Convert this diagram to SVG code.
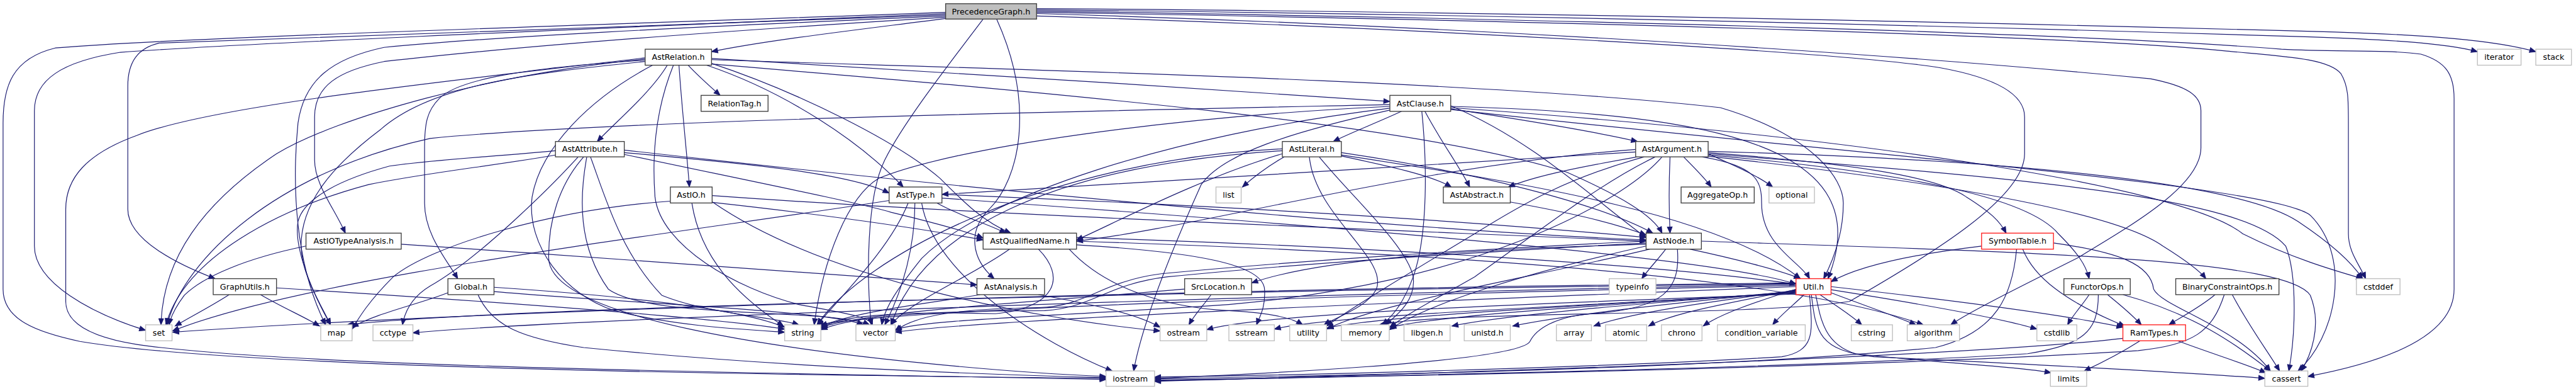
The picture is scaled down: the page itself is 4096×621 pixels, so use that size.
<svg xmlns="http://www.w3.org/2000/svg" width="4096" height="621" viewBox="0 0 4096 621">
<style>
.e{fill:none;stroke:#191970;stroke-width:1.2;marker-end:url(#ah)}
.n rect{fill:#fff;stroke:#404040;stroke-width:1.4}
.g rect{fill:#fff;stroke:#bfbfbf;stroke-width:1.4}
.r rect{fill:#fff;stroke:#ff2020;stroke-width:1.4}
.p rect{fill:#bfbfbf;stroke:#404040;stroke-width:1.4}
text{font-family:"DejaVu Sans","Liberation Sans",sans-serif;font-size:13px;text-anchor:middle;fill:#000}
</style>
<defs>
<marker id="ah" markerUnits="userSpaceOnUse" markerWidth="11" markerHeight="9" refX="10" refY="4.5" orient="auto" overflow="visible">
<path d="M0,0.5 L10,4.5 L0,8.5 z" fill="#191970" stroke="#191970" stroke-width="1"/>
</marker>
</defs>
<rect width="4096" height="621" fill="#fff"/>
<g transform="scale(0.977)">
<g id="edges">
<path class="e" d="M1539,30 C1400,48 1250,65 1158,84"/>
<path class="e" d="M1539,20 C1000,40 300,60 90,78 C20,95 5,140 5,200 L5,470 C5,520 60,540 130,555 C400,600 1300,610 1800,615"/>
<path class="e" d="M1539,22 C1000,45 400,70 196,85 C100,100 56,130 56,180 L56,400 C56,460 150,510 237,537"/>
<path class="e" d="M1539,24 C1000,45 400,65 259,70 C225,78 208,100 208,140 L208,340 C208,390 290,430 350,453"/>
<path class="e" d="M1539,26 C1100,45 800,60 625,77 C540,95 495,130 485,200 C475,300 480,430 530,528"/>
<path class="e" d="M1539,28 C1100,55 800,80 625,100 C550,115 512,140 512,190 L512,260 C512,300 545,340 562,379"/>
<path class="e" d="M1687,16 C2600,25 3500,52 3760,60 C3880,64 3980,70 4032,84"/>
<path class="e" d="M1687,14 C2600,20 3500,44 3800,52 C3950,57 4060,65 4127,84"/>
<path class="e" d="M1687,20 C2600,35 3400,60 3624,83 C3720,92 3790,95 3810,120 C3822,140 3822,160 3822,200 L3822,380 C3822,410 3840,430 3850,453"/>
<path class="e" d="M1687,18 C2600,32 3400,55 3713,80 C3800,85 3880,80 3940,88 C3980,100 3994,120 3994,160 L3994,470 C3994,540 3900,585 3756,612"/>
<path class="e" d="M1687,22 C2300,40 3000,80 3500,128 C3560,140 3582,155 3582,180 L3582,240 C3582,300 3480,360 3380,420 C3280,470 3200,510 3175,528"/>
<path class="e" d="M1687,26 C2300,45 3000,85 3157,110 C3240,125 3295,150 3295,190 L3295,250 C3295,320 3150,410 3010,490 C2850,515 2350,505 2245,528"/>
<path class="e" d="M1600,31 C1540,110 1470,200 1440,260 C1410,320 1410,450 1418,528"/>
<path class="e" d="M1622,31 C1685,170 1660,290 1610,340 C1575,375 1580,420 1618,453"/>
<path class="e" d="M1120,106 C1135,122 1155,140 1172,155"/>
<path class="e" d="M1086,106 C1060,150 1000,200 972,230"/>
<path class="e" d="M1105,106 C1110,180 1118,250 1122,304"/>
<path class="e" d="M1050,96 C800,120 550,190 450,250 C330,330 265,420 262,528"/>
<path class="e" d="M1050,94 C750,130 350,170 223,220 C140,250 107,290 107,340 L107,490 C107,530 160,550 223,560 C500,600 1400,608 1800,617"/>
<path class="e" d="M1050,98 C850,110 745,130 715,160 C695,180 691,200 691,240 L691,330 C691,380 725,420 745,453"/>
<path class="e" d="M1050,100 C850,120 700,140 620,210 C540,270 490,330 490,400 C492,450 520,490 538,528"/>
<path class="e" d="M1062,106 C960,160 880,240 866,320 C856,400 920,480 1000,505 C1100,530 1200,535 1277,540"/>
<path class="e" d="M1096,106 C1070,170 1060,240 1066,320 C1075,400 1200,470 1300,495 C1380,510 1415,515 1420,528"/>
<path class="e" d="M1150,106 C1280,150 1400,230 1470,304"/>
<path class="e" d="M1158,103 C1300,150 1460,230 1530,290 C1570,330 1600,360 1645,379"/>
<path class="e" d="M1158,95 C1500,115 1900,140 2262,165"/>
<path class="e" d="M1158,104 C1700,150 2300,200 2550,280 C2640,320 2690,350 2705,379"/>
<path class="e" d="M1158,97 C1600,112 2400,130 2800,175 C2950,220 3000,290 3000,330 C3000,380 2985,420 2968,453"/>
<path class="e" d="M941,255 C900,300 780,420 700,465 C675,480 660,500 655,528"/>
<path class="e" d="M904,245 C800,255 700,260 634,270 C560,290 495,320 485,360 C478,400 505,470 538,528"/>
<path class="e" d="M904,252 C800,270 700,280 600,300 C450,340 300,420 270,528"/>
<path class="e" d="M950,255 C910,300 892,360 893,420 C895,520 1300,570 1500,590 C1650,605 1750,610 1800,612"/>
<path class="e" d="M955,255 C943,320 940,400 990,470 C1060,520 1350,500 1415,528"/>
<path class="e" d="M961,255 C985,320 1010,410 1077,480 C1150,510 1260,515 1300,528"/>
<path class="e" d="M1016,248 C1200,265 1380,280 1447,314"/>
<path class="e" d="M1016,244 C1600,310 2300,375 2679,390"/>
<path class="e" d="M1016,251 C1200,290 1400,330 1450,345 C1520,362 1570,375 1600,387"/>
<path class="e" d="M1126,330 C1140,420 1200,480 1275,530"/>
<path class="e" d="M1159,318 C1600,350 2300,375 2679,392"/>
<path class="e" d="M1159,328 C1350,460 1700,520 1888,538"/>
<path class="e" d="M1091,327 C900,340 700,400 640,450 C600,490 585,515 573,535"/>
<path class="e" d="M1159,329 C1350,350 1500,372 1600,390"/>
<path class="e" d="M1489,330 C1489,400 1470,470 1440,528"/>
<path class="e" d="M1478,330 C1450,400 1380,470 1330,528"/>
<path class="e" d="M1447,326 C1100,380 500,450 281,538"/>
<path class="e" d="M1525,330 C1560,350 1610,365 1637,379"/>
<path class="e" d="M1533,316 C2000,335 2400,360 2679,386"/>
<path class="e" d="M1533,322 C2200,370 2800,420 2923,462"/>
<path class="e" d="M1500,330 C1520,450 1700,560 1810,603"/>
<path class="e" d="M2180,253 C2260,270 2330,285 2362,304"/>
<path class="e" d="M2090,255 C2060,272 2040,288 2022,304"/>
<path class="e" d="M2087,250 C1950,290 1800,370 1752,390"/>
<path class="e" d="M2087,245 C1700,270 1500,380 1450,528"/>
<path class="e" d="M2087,242 C1700,260 1400,420 1330,528"/>
<path class="e" d="M2131,255 C2140,350 2260,420 2240,470 C2225,500 2175,515 2155,528"/>
<path class="e" d="M2147,255 C2200,320 2290,400 2300,450 C2305,490 2270,515 2255,528"/>
<path class="e" d="M2183,252 C2500,300 2800,350 2930,453"/>
<path class="e" d="M2183,248 C2400,280 2600,330 2690,379"/>
<path class="e" d="M2281,181 C2240,200 2200,215 2170,230"/>
<path class="e" d="M2319,181 C2345,230 2375,270 2392,304"/>
<path class="e" d="M2361,177 C2480,195 2600,215 2665,230"/>
<path class="e" d="M2314,181 C2322,260 2325,380 2300,450 C2285,490 2270,510 2250,528"/>
<path class="e" d="M2262,170 C1800,180 1000,195 700,225 C450,280 300,420 272,528"/>
<path class="e" d="M2262,173 C1900,190 1550,240 1430,290 C1380,320 1340,420 1325,528"/>
<path class="e" d="M2262,176 C1900,220 1600,320 1500,420 C1460,470 1440,500 1435,528"/>
<path class="e" d="M2262,179 C2100,215 1990,250 1955,300 C1910,400 1860,520 1845,603"/>
<path class="e" d="M2361,172 C2500,230 2600,330 2679,386"/>
<path class="e" d="M2361,173 C2800,185 3060,240 2975,453"/>
<path class="e" d="M2361,175 C3000,220 3550,300 3650,380 C3730,420 3800,440 3845,453"/>
<path class="e" d="M2361,178 C3000,250 3700,300 3760,350 C3830,420 3800,550 3740,603"/>
<path class="e" d="M2665,255 C2580,270 2500,285 2455,304"/>
<path class="e" d="M2740,255 C2760,275 2775,290 2785,304"/>
<path class="e" d="M2780,250 C2820,268 2860,285 2885,304"/>
<path class="e" d="M2718,255 C2716,300 2716,340 2718,379"/>
<path class="e" d="M2662,247 C2300,270 1800,300 1533,316"/>
<path class="e" d="M2662,243 C2300,270 1950,370 1752,392"/>
<path class="e" d="M2780,248 C3000,265 3150,285 3200,320 C3240,345 3255,360 3265,379"/>
<path class="e" d="M2780,252 C3100,280 3300,320 3350,380 C3380,410 3395,430 3400,453"/>
<path class="e" d="M2780,254 C3200,300 3450,350 3520,400 C3560,425 3580,440 3590,453"/>
<path class="e" d="M2770,255 C2860,270 2867,295 2867,330 C2867,400 2930,425 2945,453"/>
<path class="e" d="M2780,246 C3300,260 3650,300 3740,360 C3800,400 3830,430 3845,453"/>
<path class="e" d="M2780,250 C3300,290 3650,320 3720,400 C3740,450 3735,550 3725,603"/>
<path class="e" d="M2694,255 C2600,300 2500,380 2400,450 C2330,490 2290,510 2262,532"/>
<path class="e" d="M2676,255 C2550,290 2480,330 2400,380 C2300,440 2200,500 2159,530"/>
<path class="e" d="M2705,255 C2640,330 2400,460 2000,495 C1700,515 1500,520 1457,536"/>
<path class="e" d="M2456,328 C2550,345 2620,360 2679,382"/>
<path class="e" d="M498,400 C400,420 330,450 300,480 C285,500 278,515 275,528"/>
<path class="e" d="M653,397 C1000,420 1400,450 1590,463"/>
<path class="e" d="M1643,405 C1580,450 1480,490 1450,528"/>
<path class="e" d="M1690,405 C1735,450 1720,500 1620,510 C1450,505 1360,515 1336,534"/>
<path class="e" d="M1752,398 C1950,410 2055,430 2058,470 C2060,500 2050,515 2045,528"/>
<path class="e" d="M1752,386 C2200,400 2700,430 2923,462"/>
<path class="e" d="M1752,392 C2300,410 2900,445 3130,528"/>
<path class="e" d="M1740,405 C1800,470 1900,500 2000,505 C2060,508 2100,515 2120,528"/>
<path class="e" d="M2711,405 C2700,420 2685,435 2672,453"/>
<path class="e" d="M2679,397 C2400,405 2150,420 2037,460"/>
<path class="e" d="M2730,405 C2735,470 2710,502 2590,510 C2530,515 2500,535 2490,555 C2470,590 2000,610 1879,615"/>
<path class="e" d="M2750,405 C2820,420 2900,440 2930,453"/>
<path class="e" d="M2769,392 C3300,410 3720,420 3760,480 C3780,530 3760,580 3745,603"/>
<path class="e" d="M2679,400 C2500,440 2330,490 2261,536"/>
<path class="e" d="M2679,395 C2400,410 2100,430 1900,450 C1800,462 1780,500 1700,505 C1550,505 1400,510 1336,536"/>
<path class="e" d="M2679,392 C2400,405 2100,425 1890,445 C1790,458 1770,498 1690,500 C1560,502 1490,512 1457,538"/>
<path class="e" d="M2685,405 C2500,450 2250,490 2159,535"/>
<path class="e" d="M3225,400 C3100,415 3020,435 2980,458"/>
<path class="e" d="M3282,405 C3275,480 3250,540 3150,565 C2800,600 2200,610 1879,616"/>
<path class="e" d="M3292,405 C3310,450 3360,490 3458,530"/>
<path class="e" d="M3342,395 C3450,410 3500,430 3505,470 C3520,500 3640,530 3695,603"/>
<path class="e" d="M3400,479 C3390,495 3375,510 3365,528"/>
<path class="e" d="M3430,479 C3450,495 3470,512 3485,528"/>
<path class="e" d="M3415,479 C3415,540 3390,560 3300,575 C2900,600 2200,612 1879,618"/>
<path class="e" d="M3455,479 C3570,510 3640,560 3695,603"/>
<path class="e" d="M3605,479 C3580,500 3550,515 3530,528"/>
<path class="e" d="M3633,479 C3660,530 3690,570 3710,603"/>
<path class="e" d="M3620,479 C3600,540 3570,560 3480,570 C3000,600 2200,612 1879,619"/>
<path class="e" d="M3483,554 C3450,575 3420,590 3392,603"/>
<path class="e" d="M3544,554 C3600,575 3650,590 3688,606"/>
<path class="e" d="M3455,550 C3200,580 2400,605 1879,620"/>
<path class="e" d="M2936,479 C2920,495 2900,510 2885,528"/>
<path class="e" d="M2962,479 C2985,495 3010,510 3030,528"/>
<path class="e" d="M2980,476 C3030,495 3080,512 3118,528"/>
<path class="e" d="M2980,471 C3100,490 3250,515 3315,535"/>
<path class="e" d="M2980,466 C3150,485 3350,510 3455,532"/>
<path class="e" d="M2955,479 C2963,520 2970,560 3020,575 C3150,590 3280,595 3338,606"/>
<path class="e" d="M2948,479 C2955,540 2960,570 3050,580 C3300,592 3550,605 3686,615"/>
<path class="e" d="M2923,470 C2860,490 2800,510 2772,530"/>
<path class="e" d="M2923,471 C2800,495 2720,510 2683,530"/>
<path class="e" d="M2923,472 C2750,495 2650,510 2594,530"/>
<path class="e" d="M2923,473 C2700,495 2550,512 2462,530"/>
<path class="e" d="M2923,474 C2650,495 2450,512 2363,530"/>
<path class="e" d="M2923,475 C2600,497 2350,512 2262,532"/>
<path class="e" d="M2923,476 C2550,498 2250,514 2160,533"/>
<path class="e" d="M2923,477 C2500,500 2150,515 2074,535"/>
<path class="e" d="M2923,478 C2450,495 2050,510 1964,536"/>
<path class="e" d="M2923,466 C2300,490 1600,520 1457,540"/>
<path class="e" d="M2923,464 C2200,480 1500,500 1330,528"/>
<path class="e" d="M2945,479 C2950,540 2955,570 2900,580 C2600,598 2100,610 1879,613"/>
<path class="e" d="M2923,462 C2000,480 900,520 672,541"/>
<path class="e" d="M2923,461 C2000,472 800,500 565,528"/>
<path class="e" d="M2923,460 C1800,470 700,510 281,540"/>
<path class="e" d="M1971,479 C1960,495 1945,510 1935,528"/>
<path class="e" d="M1928,470 C1700,490 1420,505 1336,532"/>
<path class="e" d="M1690,479 C1780,495 1850,510 1888,532"/>
<path class="e" d="M1595,479 C1500,495 1400,505 1336,530"/>
<path class="e" d="M373,479 C340,500 310,515 285,530"/>
<path class="e" d="M424,479 C460,500 495,515 520,530"/>
<path class="e" d="M450,468 C800,490 1150,515 1277,535"/>
<path class="e" d="M729,476 C680,495 610,510 573,532"/>
<path class="e" d="M804,467 C1000,480 1200,500 1277,532"/>
<path class="e" d="M804,474 C1050,495 1350,505 1405,528"/>
<path class="e" d="M778,479 C800,530 850,550 950,565 C1300,600 1650,610 1800,614"/>
</g>
<g id="node-PrecedenceGraph" class="p"><rect x="1539" y="6" width="148" height="25"/><text x="1613" y="23.5">PrecedenceGraph.h</text></g>
<g id="node-AstRelation" class="n"><rect x="1050" y="80" width="108" height="26"/><text x="1104" y="97.5">AstRelation.h</text></g>
<g id="node-iterator" class="g"><rect x="4032" y="80" width="71" height="26"/><text x="4067.5" y="97.5">iterator</text></g>
<g id="node-stack" class="g"><rect x="4127" y="80" width="58" height="26"/><text x="4156" y="97.5">stack</text></g>
<g id="node-RelationTag" class="n"><rect x="1141" y="155" width="109" height="26"/><text x="1195.5" y="172.5">RelationTag.h</text></g>
<g id="node-AstClause" class="n"><rect x="2262" y="155" width="99" height="26"/><text x="2311.5" y="172.5">AstClause.h</text></g>
<g id="node-AstAttribute" class="n"><rect x="904" y="230" width="112" height="25"/><text x="960" y="247">AstAttribute.h</text></g>
<g id="node-AstLiteral" class="n"><rect x="2087" y="230" width="96" height="25"/><text x="2135" y="247">AstLiteral.h</text></g>
<g id="node-AstArgument" class="n"><rect x="2662" y="230" width="118" height="25"/><text x="2721" y="247">AstArgument.h</text></g>
<g id="node-AstIO" class="n"><rect x="1091" y="304" width="68" height="26"/><text x="1125" y="321.5">AstIO.h</text></g>
<g id="node-AstType" class="n"><rect x="1447" y="304" width="86" height="26"/><text x="1490" y="321.5">AstType.h</text></g>
<g id="node-list" class="g"><rect x="1979" y="304" width="41" height="26"/><text x="1999.5" y="321.5">list</text></g>
<g id="node-AstAbstract" class="n"><rect x="2349" y="304" width="109" height="26"/><text x="2403.5" y="321.5">AstAbstract.h</text></g>
<g id="node-AggregateOp" class="n"><rect x="2736" y="304" width="119" height="26"/><text x="2795.5" y="321.5">AggregateOp.h</text></g>
<g id="node-optional" class="g"><rect x="2879" y="304" width="74" height="26"/><text x="2916" y="321.5">optional</text></g>
<g id="node-AstIOTypeAnalysis" class="n"><rect x="498" y="379" width="155" height="26"/><text x="575.5" y="396.5">AstIOTypeAnalysis.h</text></g>
<g id="node-AstQualifiedName" class="n"><rect x="1600" y="379" width="152" height="26"/><text x="1676" y="396.5">AstQualifiedName.h</text></g>
<g id="node-AstNode" class="n"><rect x="2679" y="379" width="90" height="26"/><text x="2724" y="396.5">AstNode.h</text></g>
<g id="node-SymbolTable" class="r"><rect x="3225" y="379" width="117" height="26"/><text x="3283.5" y="396.5">SymbolTable.h</text></g>
<g id="node-GraphUtils" class="n"><rect x="347" y="453" width="103" height="26"/><text x="398.5" y="470.5">GraphUtils.h</text></g>
<g id="node-Global" class="n"><rect x="729" y="453" width="75" height="26"/><text x="766.5" y="470.5">Global.h</text></g>
<g id="node-AstAnalysis" class="n"><rect x="1590" y="453" width="110" height="26"/><text x="1645" y="470.5">AstAnalysis.h</text></g>
<g id="node-SrcLocation" class="n"><rect x="1928" y="453" width="109" height="26"/><text x="1982.5" y="470.5">SrcLocation.h</text></g>
<g id="node-typeinfo" class="g"><rect x="2619" y="453" width="76" height="26"/><text x="2657" y="470.5">typeinfo</text></g>
<g id="node-Util" class="r"><rect x="2923" y="453" width="57" height="26"/><text x="2951.5" y="470.5">Util.h</text></g>
<g id="node-FunctorOps" class="n"><rect x="3359" y="453" width="108" height="26"/><text x="3413" y="470.5">FunctorOps.h</text></g>
<g id="node-BinaryConstraintOps" class="n"><rect x="3541" y="453" width="168" height="26"/><text x="3625" y="470.5">BinaryConstraintOps.h</text></g>
<g id="node-cstddef" class="g"><rect x="3835" y="453" width="71" height="26"/><text x="3870.5" y="470.5">cstddef</text></g>
<g id="node-set" class="g"><rect x="237" y="528" width="43" height="26"/><text x="258.5" y="545.5">set</text></g>
<g id="node-map" class="g"><rect x="522" y="528" width="51" height="26"/><text x="547.5" y="545.5">map</text></g>
<g id="node-cctype" class="g"><rect x="607" y="528" width="65" height="26"/><text x="639.5" y="545.5">cctype</text></g>
<g id="node-string" class="g"><rect x="1277" y="528" width="59" height="26"/><text x="1306.5" y="545.5">string</text></g>
<g id="node-vector" class="g"><rect x="1393" y="528" width="64" height="26"/><text x="1425" y="545.5">vector</text></g>
<g id="node-ostream" class="g"><rect x="1888" y="528" width="76" height="26"/><text x="1926" y="545.5">ostream</text></g>
<g id="node-sstream" class="g"><rect x="2000" y="528" width="74" height="26"/><text x="2037" y="545.5">sstream</text></g>
<g id="node-utility" class="g"><rect x="2099" y="528" width="60" height="26"/><text x="2129" y="545.5">utility</text></g>
<g id="node-memory" class="g"><rect x="2183" y="528" width="78" height="26"/><text x="2222" y="545.5">memory</text></g>
<g id="node-libgen" class="g"><rect x="2285" y="528" width="75" height="26"/><text x="2322.5" y="545.5">libgen.h</text></g>
<g id="node-unistd" class="g"><rect x="2383" y="528" width="75" height="26"/><text x="2420.5" y="545.5">unistd.h</text></g>
<g id="node-array" class="g"><rect x="2533" y="528" width="57" height="26"/><text x="2561.5" y="545.5">array</text></g>
<g id="node-atomic" class="g"><rect x="2613" y="528" width="67" height="26"/><text x="2646.5" y="545.5">atomic</text></g>
<g id="node-chrono" class="g"><rect x="2704" y="528" width="66" height="26"/><text x="2737" y="545.5">chrono</text></g>
<g id="node-condition_variable" class="g"><rect x="2795" y="528" width="143" height="26"/><text x="2866.5" y="545.5">condition_variable</text></g>
<g id="node-cstring" class="g"><rect x="3013" y="528" width="67" height="26"/><text x="3046.5" y="545.5">cstring</text></g>
<g id="node-algorithm" class="g"><rect x="3104" y="528" width="85" height="26"/><text x="3146.5" y="545.5">algorithm</text></g>
<g id="node-cstdlib" class="g"><rect x="3315" y="528" width="65" height="26"/><text x="3347.5" y="545.5">cstdlib</text></g>
<g id="node-RamTypes" class="r"><rect x="3455" y="528" width="102" height="26"/><text x="3506" y="545.5">RamTypes.h</text></g>
<g id="node-iostream" class="g"><rect x="1800" y="603" width="79" height="25"/><text x="1839.5" y="620">iostream</text></g>
<g id="node-limits" class="g"><rect x="3337" y="603" width="59" height="25"/><text x="3366.5" y="620">limits</text></g>
<g id="node-cassert" class="g"><rect x="3686" y="603" width="70" height="25"/><text x="3721" y="620">cassert</text></g>
</g>
</svg>
